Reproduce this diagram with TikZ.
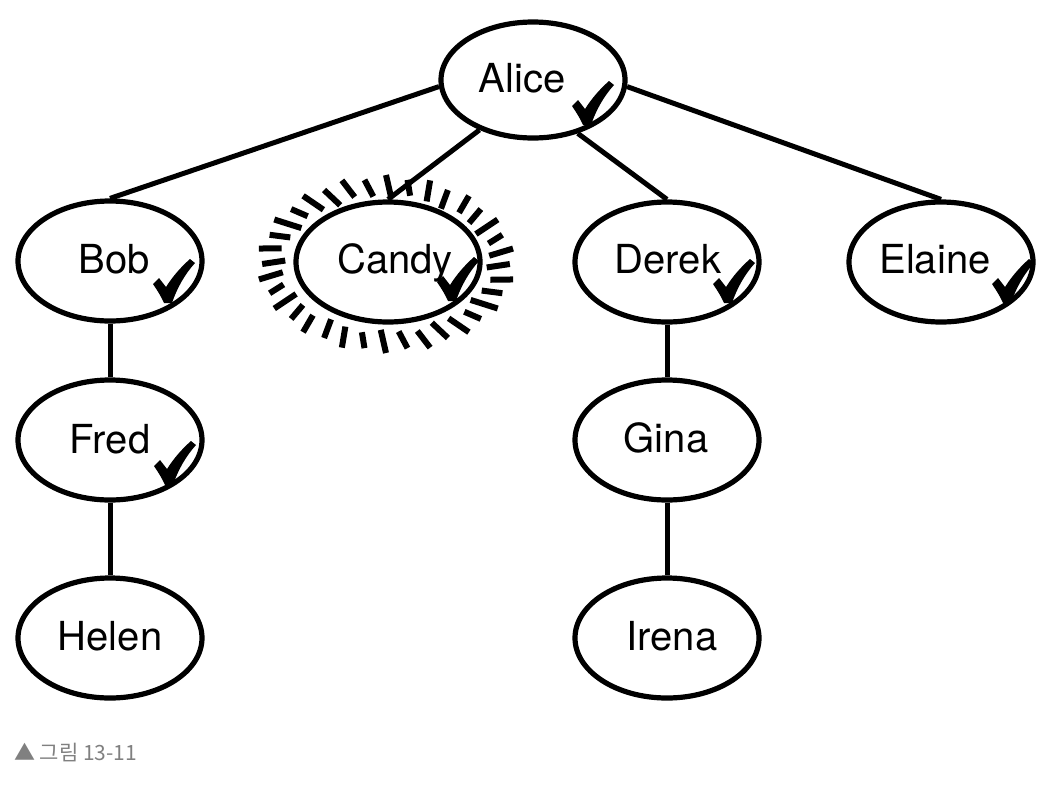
\documentclass[tikz,border=0pt]{standalone}
\usepackage{fontspec}
\setmainfont{TeX Gyre Heros}
\newfontfamily\cjk{Noto Sans CJK KR}
\usetikzlibrary{shapes.geometric}
\tikzset{
  person/.style={ellipse, draw, line width=5.2pt, fill=white, minimum width=184pt, minimum height=120pt, inner sep=0pt},
  nm/.style={anchor=base, inner sep=0pt, font=\fontsize{40}{48}\selectfont},
  edge/.style={line width=5pt},
  burst/.style={line width=6pt},
  chk/.pic={\fill (0,24) -- (6,18) -- (13,27) .. controls (20,16) and (28,7) .. (37,-1) -- (42,3) .. controls (32,14) and (24,28) .. (19,43) -- (11,43) .. controls (8,36) and (4,30) .. (0,24) -- cycle;}
}
\begin{document}
\begin{tikzpicture}[x=1pt,y=-1pt]
\useasboundingbox (0,0) rectangle (1054,788);
% burst around Candy
\foreach \t [count=\i] in {0,10,...,350}{
  \pgfmathsetmacro\ri{mod(\i,3)==0 ? 1.0 : (mod(\i,3)==1 ? 0.97 : 1.03)}
  \pgfmathsetmacro\ro{mod(\i,2)==0 ? 1.0 : 0.96}
  \draw[burst] ({386+104*\ri*cos(\t+3)},{264+68*\ri*sin(\t+3)}) -- ({386+129*\ro*cos(\t)},{264+89*\ro*sin(\t)});
}
% nodes
\node[person, minimum height=116pt] (alice) at (533,80) {};
\node[person] (bob) at (110,261) {};
\node[person] (candy) at (388,262) {};
\node[person] (derek) at (667,262) {};
\node[person] (elaine) at (941,262) {};
\node[person] (fred) at (110,440) {};
\node[person] (helen) at (110,638) {};
\node[person] (gina) at (667,440) {};
\node[person] (irena) at (667,638) {};
% edges
\draw[edge] (alice.184) -- (bob.north);
\draw[edge] (alice.223) -- (candy.north);
\draw[edge] (alice.310) -- (derek.north);
\draw[edge] (alice.356) -- (elaine.north);
\draw[edge] (bob) -- (fred);
\draw[edge] (fred) -- (helen);
\draw[edge] (derek) -- (gina);
\draw[edge] (gina) -- (irena);
% names
\node[nm] (talice) at (522,92) {Alice};
\node[nm] (tbob) at (114,273) {Bob};
\node[nm] (tcandy) at (395,273) {Candy};
\node[nm] (tderek) at (668,273) {Derek};
\node[nm] (telaine) at (935,273) {Elaine};
\node[nm] (tfred) at (110,453) {Fred};
\node[nm] (thelen) at (110,650) {Helen};
\node[nm] (tgina) at (666,452) {Gina};
\node[nm] (tirena) at (672,650) {Irena};
% checks
\pic at (572,82) {chk};
\pic at (153,260) {chk};
\pic at (437,258) {chk};
\pic at (713,260) {chk};
\pic at (992,260) {chk};
\pic at (154,442) {chk};
% caption
\node[anchor=base west, inner sep=0pt, text=black!50, font=\cjk\fontsize{21}{24}\selectfont] (cap) at (14,760) {▲ 그림 13-11};
\end{tikzpicture}
\end{document}
